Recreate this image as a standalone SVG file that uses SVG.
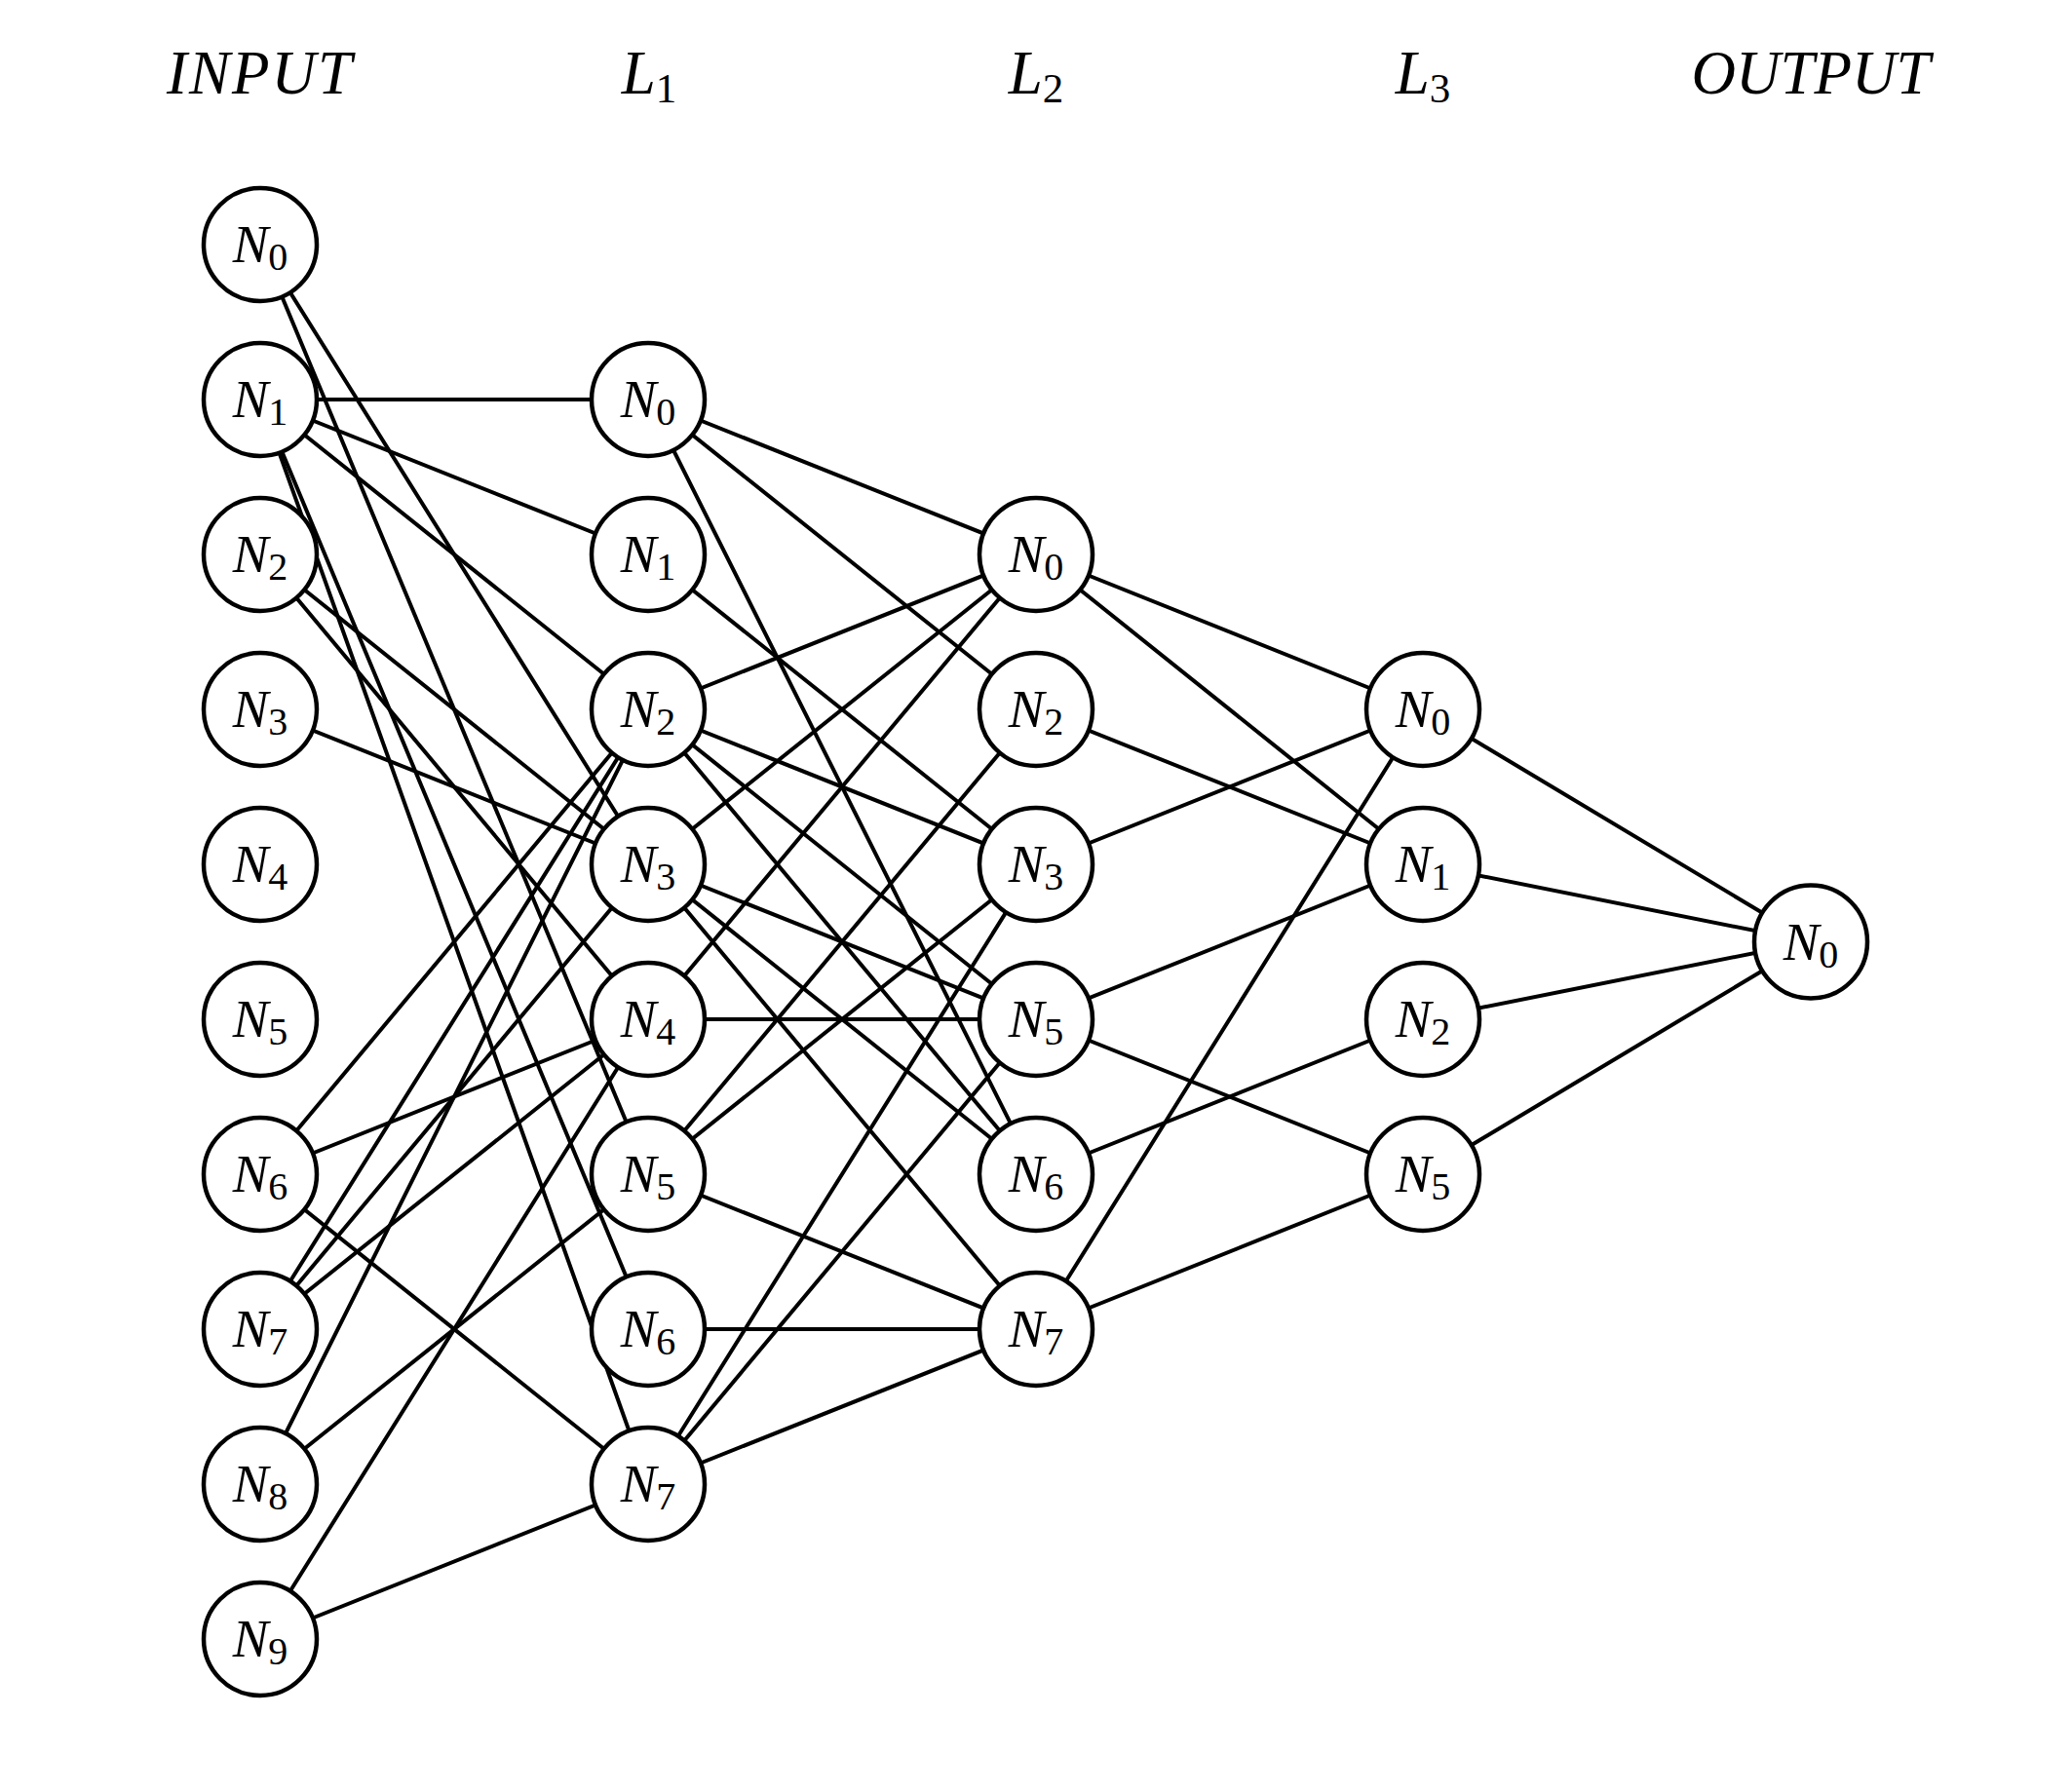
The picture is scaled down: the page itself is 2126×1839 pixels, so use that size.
<svg xmlns="http://www.w3.org/2000/svg" width="2126" height="1839" viewBox="0 0 2126 1839">
  <style>
    .edge { stroke: #000; stroke-width: 4; fill: none; stroke-linecap: round; }
    .node circle { fill: #fff; stroke: #000; stroke-width: 4.5; }
    .lbl { font-family: "Liberation Serif", "DejaVu Serif", serif; font-size: 55px; fill: #000; text-anchor: middle; }
    .lbl .v { font-style: italic; }
    .lbl .s { font-size: 40px; font-style: normal; }
    .hdr { font-family: "Liberation Serif", "DejaVu Serif", serif; font-size: 63px; fill: #000; text-anchor: middle; }
    .hdr .v { font-style: italic; }
    .hdr .s { font-size: 43px; font-style: normal; }
  </style>
  <rect width="2126" height="1839" fill="#fff"/>

  <!-- layer titles -->
  <g id="titles">
    <text class="hdr" x="267" y="96"><tspan class="v" letter-spacing="2">INPUT</tspan></text>
    <text class="hdr" x="666" y="96"><tspan class="v">L</tspan><tspan class="s" dy="9">1</tspan></text>
    <text class="hdr" x="1063" y="96"><tspan class="v">L</tspan><tspan class="s" dy="9">2</tspan></text>
    <text class="hdr" x="1460" y="96"><tspan class="v">L</tspan><tspan class="s" dy="9">3</tspan></text>
    <text class="hdr" x="1858" y="96"><tspan class="v">OUTPUT</tspan></text>
  </g>

  <!-- connections, drawn under the neurons -->
  <g id="edges" class="edge">
    <!-- input -> L1 -->
    <line x1="267" y1="251" x2="665" y2="887"/>
    <line x1="267" y1="251" x2="665" y2="1205"/>
    <line x1="267" y1="410" x2="665" y2="410"/>
    <line x1="267" y1="410" x2="665" y2="569"/>
    <line x1="267" y1="410" x2="665" y2="728"/>
    <line x1="267" y1="410" x2="665" y2="1364"/>
    <line x1="267" y1="410" x2="665" y2="1523"/>
    <line x1="267" y1="569" x2="665" y2="887"/>
    <line x1="267" y1="569" x2="665" y2="1046"/>
    <line x1="267" y1="728" x2="665" y2="887"/>
    <line x1="267" y1="1205" x2="665" y2="728"/>
    <line x1="267" y1="1205" x2="665" y2="1046"/>
    <line x1="267" y1="1205" x2="665" y2="1523"/>
    <line x1="267" y1="1364" x2="665" y2="728"/>
    <line x1="267" y1="1364" x2="665" y2="887"/>
    <line x1="267" y1="1364" x2="665" y2="1046"/>
    <line x1="267" y1="1523" x2="665" y2="728"/>
    <line x1="267" y1="1523" x2="665" y2="1205"/>
    <line x1="267" y1="1682" x2="665" y2="1046"/>
    <line x1="267" y1="1682" x2="665" y2="1523"/>
    <!-- L1 -> L2 -->
    <line x1="665" y1="410" x2="1063" y2="569"/>
    <line x1="665" y1="410" x2="1063" y2="728"/>
    <line x1="665" y1="410" x2="1063" y2="1205"/>
    <line x1="665" y1="569" x2="1063" y2="887"/>
    <line x1="665" y1="728" x2="1063" y2="569"/>
    <line x1="665" y1="728" x2="1063" y2="887"/>
    <line x1="665" y1="728" x2="1063" y2="1046"/>
    <line x1="665" y1="728" x2="1063" y2="1205"/>
    <line x1="665" y1="887" x2="1063" y2="569"/>
    <line x1="665" y1="887" x2="1063" y2="1046"/>
    <line x1="665" y1="887" x2="1063" y2="1205"/>
    <line x1="665" y1="887" x2="1063" y2="1364"/>
    <line x1="665" y1="1046" x2="1063" y2="569"/>
    <line x1="665" y1="1046" x2="1063" y2="1046"/>
    <line x1="665" y1="1205" x2="1063" y2="728"/>
    <line x1="665" y1="1205" x2="1063" y2="887"/>
    <line x1="665" y1="1205" x2="1063" y2="1364"/>
    <line x1="665" y1="1364" x2="1063" y2="1364"/>
    <line x1="665" y1="1523" x2="1063" y2="887"/>
    <line x1="665" y1="1523" x2="1063" y2="1046"/>
    <line x1="665" y1="1523" x2="1063" y2="1364"/>
    <!-- L2 -> L3 -->
    <line x1="1063" y1="569" x2="1460" y2="728"/>
    <line x1="1063" y1="569" x2="1460" y2="887"/>
    <line x1="1063" y1="728" x2="1460" y2="887"/>
    <line x1="1063" y1="887" x2="1460" y2="728"/>
    <line x1="1063" y1="1046" x2="1460" y2="887"/>
    <line x1="1063" y1="1046" x2="1460" y2="1205"/>
    <line x1="1063" y1="1205" x2="1460" y2="1046"/>
    <line x1="1063" y1="1364" x2="1460" y2="728"/>
    <line x1="1063" y1="1364" x2="1460" y2="1205"/>
    <!-- L3 -> output -->
    <line x1="1460" y1="728" x2="1858" y2="966.5"/>
    <line x1="1460" y1="887" x2="1858" y2="966.5"/>
    <line x1="1460" y1="1046" x2="1858" y2="966.5"/>
    <line x1="1460" y1="1205" x2="1858" y2="966.5"/>
  </g>

  <!-- input layer -->
  <g id="in0" class="node"><circle cx="267" cy="251" r="58"/><text class="lbl" x="267" y="269"><tspan class="v">N</tspan><tspan class="s" dy="8">0</tspan></text></g>
  <g id="in1" class="node"><circle cx="267" cy="410" r="58"/><text class="lbl" x="267" y="428"><tspan class="v">N</tspan><tspan class="s" dy="8">1</tspan></text></g>
  <g id="in2" class="node"><circle cx="267" cy="569" r="58"/><text class="lbl" x="267" y="587"><tspan class="v">N</tspan><tspan class="s" dy="8">2</tspan></text></g>
  <g id="in3" class="node"><circle cx="267" cy="728" r="58"/><text class="lbl" x="267" y="746"><tspan class="v">N</tspan><tspan class="s" dy="8">3</tspan></text></g>
  <g id="in4" class="node"><circle cx="267" cy="887" r="58"/><text class="lbl" x="267" y="905"><tspan class="v">N</tspan><tspan class="s" dy="8">4</tspan></text></g>
  <g id="in5" class="node"><circle cx="267" cy="1046" r="58"/><text class="lbl" x="267" y="1064"><tspan class="v">N</tspan><tspan class="s" dy="8">5</tspan></text></g>
  <g id="in6" class="node"><circle cx="267" cy="1205" r="58"/><text class="lbl" x="267" y="1223"><tspan class="v">N</tspan><tspan class="s" dy="8">6</tspan></text></g>
  <g id="in7" class="node"><circle cx="267" cy="1364" r="58"/><text class="lbl" x="267" y="1382"><tspan class="v">N</tspan><tspan class="s" dy="8">7</tspan></text></g>
  <g id="in8" class="node"><circle cx="267" cy="1523" r="58"/><text class="lbl" x="267" y="1541"><tspan class="v">N</tspan><tspan class="s" dy="8">8</tspan></text></g>
  <g id="in9" class="node"><circle cx="267" cy="1682" r="58"/><text class="lbl" x="267" y="1700"><tspan class="v">N</tspan><tspan class="s" dy="8">9</tspan></text></g>

  <!-- hidden layer 1 -->
  <g id="l1n0" class="node"><circle cx="665" cy="410" r="58"/><text class="lbl" x="665" y="428"><tspan class="v">N</tspan><tspan class="s" dy="8">0</tspan></text></g>
  <g id="l1n1" class="node"><circle cx="665" cy="569" r="58"/><text class="lbl" x="665" y="587"><tspan class="v">N</tspan><tspan class="s" dy="8">1</tspan></text></g>
  <g id="l1n2" class="node"><circle cx="665" cy="728" r="58"/><text class="lbl" x="665" y="746"><tspan class="v">N</tspan><tspan class="s" dy="8">2</tspan></text></g>
  <g id="l1n3" class="node"><circle cx="665" cy="887" r="58"/><text class="lbl" x="665" y="905"><tspan class="v">N</tspan><tspan class="s" dy="8">3</tspan></text></g>
  <g id="l1n4" class="node"><circle cx="665" cy="1046" r="58"/><text class="lbl" x="665" y="1064"><tspan class="v">N</tspan><tspan class="s" dy="8">4</tspan></text></g>
  <g id="l1n5" class="node"><circle cx="665" cy="1205" r="58"/><text class="lbl" x="665" y="1223"><tspan class="v">N</tspan><tspan class="s" dy="8">5</tspan></text></g>
  <g id="l1n6" class="node"><circle cx="665" cy="1364" r="58"/><text class="lbl" x="665" y="1382"><tspan class="v">N</tspan><tspan class="s" dy="8">6</tspan></text></g>
  <g id="l1n7" class="node"><circle cx="665" cy="1523" r="58"/><text class="lbl" x="665" y="1541"><tspan class="v">N</tspan><tspan class="s" dy="8">7</tspan></text></g>

  <!-- hidden layer 2 -->
  <g id="l2n0" class="node"><circle cx="1063" cy="569" r="58"/><text class="lbl" x="1063" y="587"><tspan class="v">N</tspan><tspan class="s" dy="8">0</tspan></text></g>
  <g id="l2n2" class="node"><circle cx="1063" cy="728" r="58"/><text class="lbl" x="1063" y="746"><tspan class="v">N</tspan><tspan class="s" dy="8">2</tspan></text></g>
  <g id="l2n3" class="node"><circle cx="1063" cy="887" r="58"/><text class="lbl" x="1063" y="905"><tspan class="v">N</tspan><tspan class="s" dy="8">3</tspan></text></g>
  <g id="l2n5" class="node"><circle cx="1063" cy="1046" r="58"/><text class="lbl" x="1063" y="1064"><tspan class="v">N</tspan><tspan class="s" dy="8">5</tspan></text></g>
  <g id="l2n6" class="node"><circle cx="1063" cy="1205" r="58"/><text class="lbl" x="1063" y="1223"><tspan class="v">N</tspan><tspan class="s" dy="8">6</tspan></text></g>
  <g id="l2n7" class="node"><circle cx="1063" cy="1364" r="58"/><text class="lbl" x="1063" y="1382"><tspan class="v">N</tspan><tspan class="s" dy="8">7</tspan></text></g>

  <!-- hidden layer 3 -->
  <g id="l3n0" class="node"><circle cx="1460" cy="728" r="58"/><text class="lbl" x="1460" y="746"><tspan class="v">N</tspan><tspan class="s" dy="8">0</tspan></text></g>
  <g id="l3n1" class="node"><circle cx="1460" cy="887" r="58"/><text class="lbl" x="1460" y="905"><tspan class="v">N</tspan><tspan class="s" dy="8">1</tspan></text></g>
  <g id="l3n2" class="node"><circle cx="1460" cy="1046" r="58"/><text class="lbl" x="1460" y="1064"><tspan class="v">N</tspan><tspan class="s" dy="8">2</tspan></text></g>
  <g id="l3n5" class="node"><circle cx="1460" cy="1205" r="58"/><text class="lbl" x="1460" y="1223"><tspan class="v">N</tspan><tspan class="s" dy="8">5</tspan></text></g>

  <!-- output layer -->
  <g id="out0" class="node"><circle cx="1858" cy="966.5" r="58"/><text class="lbl" x="1858" y="984.5"><tspan class="v">N</tspan><tspan class="s" dy="8">0</tspan></text></g>
</svg>
